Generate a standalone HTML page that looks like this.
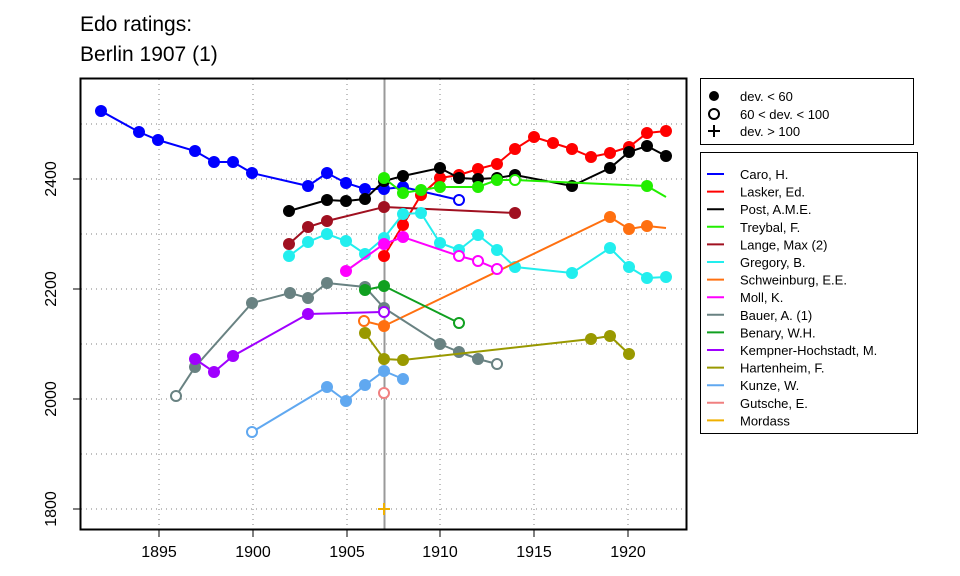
<!DOCTYPE html>
<html><head><meta charset="utf-8"><style>body{margin:0;background:#fff}svg{display:block;font-family:"Liberation Sans",Arial,sans-serif}</style></head>
<body>
<svg id="s" width="960" height="576" xmlns="http://www.w3.org/2000/svg">
<text x="80" y="31" font-size="21">Edo ratings:</text>
<text x="80" y="61" font-size="21">Berlin 1907 (1)</text>
<g id="grid" stroke="#999" stroke-dasharray="1,4" stroke-width="1.2"></g>
<line x1="384.5" y1="79" x2="384.5" y2="529" stroke="#999" stroke-width="2"/>
<g id="data"></g>
<rect x="80.5" y="78.5" width="606" height="451" fill="none" stroke="#000" stroke-width="2"/>
<g id="axes" font-size="16"></g>
<g id="leg" font-size="13"></g>
</svg>
<script>
const NS="http://www.w3.org/2000/svg";
function el(p,t,a,txt){const e=document.createElementNS(NS,t);for(const k in a)e.setAttribute(k,a[k]);if(txt!=null)e.textContent=txt;document.getElementById(p).appendChild(e);return e;}
const xs=[159,253,347,440,534,628],yrs=[1895,1900,1905,1910,1915,1920];
for(const x of xs)el("grid","line",{x1:x,y1:79,x2:x,y2:529});
for(let y=124;y<=509;y+=55)el("grid","line",{x1:81,y1:y,x2:686,y2:y});
xs.forEach((x,i)=>{el("axes","line",{x1:x,y1:530,x2:x,y2:537,stroke:"#000"});el("axes","text",{x:x,y:557,"text-anchor":"middle"},yrs[i]);});
[[509,1800],[399,2000],[289,2200],[179,2400]].forEach(([y,v])=>{el("axes","line",{x1:73,y1:y,x2:80,y2:y,stroke:"#000"});el("axes","text",{x:56,y:y,"text-anchor":"middle",transform:`rotate(-90 56 ${y})`},v);});
// series: color, points [x,y,hollow?]
const S=[
["#0000ff",[[101,111],[139,132],[158,140],[195,151],[214,162],[233,162],[252,173],[308,186],[327,173],[346,183],[365,189],[384,189],[403,187],[459,200,1]]],
["#ff0000",[[384,256],[403,225],[421,195],[440,178],[459,175],[478,169],[497,164],[515,149],[534,137],[553,143],[572,149],[591,157],[610,153],[629,147],[647,133],[666,131]]],
["#000000",[[289,211],[327,200],[346,201],[365,199],[384,181],[403,176],[440,168],[459,178],[478,179],[497,178],[515,175],[572,186],[610,168],[629,152],[647,146],[666,156]]],
["#22ee00",[[384,178],[403,193],[421,190],[440,187],[478,187],[497,180],[515,180,1],[647,186],[666,197,2]]],
["#a01020",[[289,244],[308,227],[327,221],[384,207],[515,213]]],
["#22eeee",[[289,256],[308,242],[327,234],[346,241],[365,254],[384,238],[403,214],[421,213],[440,243],[459,250],[478,235],[497,250],[515,267],[572,273],[610,248],[629,267],[647,278],[666,277]]],
["#ff7010",[[364,321,1],[384,326],[610,217],[629,229],[647,226],[666,228,2]]],
["#ff00ff",[[346,271],[384,244],[403,237],[459,256,1],[478,261,1],[497,269,1]]],
["#698282",[[176,396,1],[195,367],[252,303],[290,293],[308,298],[327,283],[365,287],[384,308],[440,344],[459,352],[478,359],[497,364,1]]],
["#10a020",[[365,290],[384,286],[459,323,1]]],
["#a000ff",[[195,359],[214,372],[233,356],[308,314],[384,312,1]]],
["#999900",[[365,333],[384,359],[403,360],[591,339],[610,336],[629,354]]],
["#60a8f0",[[252,432,1],[327,387],[346,401],[365,385],[384,371],[403,379]]],
["#f08080",[[384,393,1]]],
["#f0b000",[]]
];
for(const [c,p] of S){
 if(p.length>1)el("data","polyline",{points:p.map(q=>q[0]+","+q[1]).join(" "),fill:"none",stroke:c,"stroke-width":2});
 for(const q of p){if(q[2]==2)continue;
  if(q[2])el("data","circle",{cx:q[0],cy:q[1],r:5,fill:"#fff",stroke:c,"stroke-width":2});
  else el("data","circle",{cx:q[0],cy:q[1],r:6,fill:c});}
}
el("data","path",{d:"M378 509H390M384 503V515",stroke:"#f0b000","stroke-width":2});
// legends
el("leg","rect",{x:700.5,y:78.5,width:213,height:66,fill:"#fff",stroke:"#000"});
el("leg","circle",{cx:714,cy:96,r:5,fill:"#000"});
el("leg","circle",{cx:714,cy:114,r:5,fill:"none",stroke:"#000","stroke-width":2});
el("leg","path",{d:"M708 131H720M714 125V137",stroke:"#000","stroke-width":2});
[["dev. < 60",101],["60 < dev. < 100",119],["dev. > 100",136]].forEach(([t,y])=>el("leg","text",{x:740,y:y},t));
el("leg","rect",{x:700.5,y:152.5,width:217,height:281,fill:"#fff",stroke:"#000"});
const N=["Caro, H.","Lasker, Ed.","Post, A.M.E.","Treybal, F.","Lange, Max (2)","Gregory, B.","Schweinburg, E.E.","Moll, K.","Bauer, A. (1)","Benary, W.H.","Kempner-Hochstadt, M.","Hartenheim, F.","Kunze, W.","Gutsche, E.","Mordass"];
N.forEach((n,i)=>{const y=174+i*17.6;el("leg","line",{x1:707,y1:y,x2:724,y2:y,stroke:S[i][0],"stroke-width":2});el("leg","text",{x:740,y:y+5},n);});
</script>
</body></html>
